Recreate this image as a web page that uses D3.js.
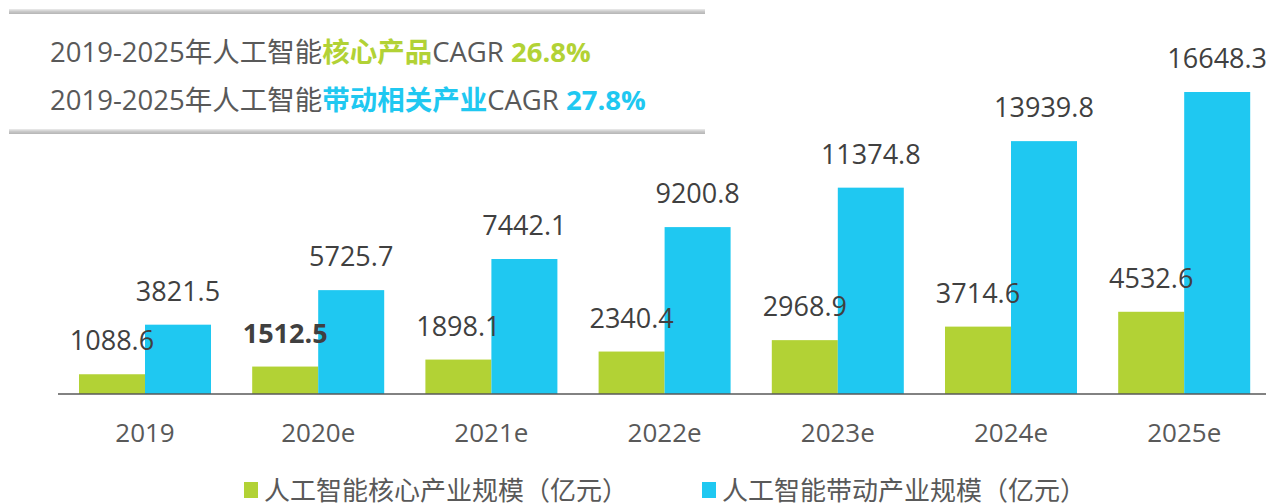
<!DOCTYPE html>
<html lang="zh">
<head>
<meta charset="UTF-8">
<title>人工智能产业规模</title>
<script src="https://d3js.org/d3.v7.min.js"></script>
<style>
  body { margin: 0; background: #fff; }
  svg text { font-family: "Open Sans", "Noto Sans CJK SC", sans-serif; }
</style>
</head>
<body>
<script>
// data
const years = ["2019", "2020e", "2021e", "2022e", "2023e", "2024e", "2025e"];
const coreValues = [1088.6, 1512.5, 1898.1, 2340.4, 2968.9, 3714.6, 4532.6];
const relatedValues = [3821.5, 5725.7, 7442.1, 9200.8, 11374.8, 13939.8, 16648.3];
const seriesNames = ["人工智能核心产业规模（亿元）", "人工智能带动产业规模（亿元）"];
const colors = ["#b2d235", "#1fc8f1"];

const width = 1266, height = 503;
const baseY = 394;

const svg = d3.select("body").append("svg")
    .attr("width", width)
    .attr("height", height);

// gradient for the box rules
const defs = svg.append("defs");
const grad = defs.append("linearGradient").attr("id", "rule").attr("x1", 0).attr("y1", 0).attr("x2", 0).attr("y2", 1);
grad.append("stop").attr("offset", "0%").attr("stop-color", "#ececec");
grad.append("stop").attr("offset", "50%").attr("stop-color", "#c9c9c9");
grad.append("stop").attr("offset", "100%").attr("stop-color", "#b5b5b5");

svg.append("rect").attr("x", 9).attr("y", 9).attr("width", 696).attr("height", 5).attr("fill", "url(#rule)");
svg.append("rect").attr("x", 9).attr("y", 129).attr("width", 696).attr("height", 5).attr("fill", "url(#rule)");

// CAGR text
const t1 = svg.append("text").attr("x", 50).attr("y", 62).attr("font-size", 27.5).attr("fill", "#595959");
t1.append("tspan").text("2019-2025年人工智能");
t1.append("tspan").attr("fill", colors[0]).attr("font-weight", "bold").text("核心产品");
t1.append("tspan").text("CAGR ");
t1.append("tspan").attr("fill", colors[0]).attr("font-weight", "bold").text("26.8%");

const t2 = svg.append("text").attr("x", 50).attr("y", 110).attr("font-size", 27.5).attr("fill", "#595959");
t2.append("tspan").text("2019-2025年人工智能");
t2.append("tspan").attr("fill", colors[1]).attr("font-weight", "bold").text("带动相关产业");
t2.append("tspan").text("CAGR ");
t2.append("tspan").attr("fill", colors[1]).attr("font-weight", "bold").text("27.8%");

// scales
const x0 = d3.scaleBand().domain(years).range([58.4, 1270.8]);
const x1 = d3.scaleBand().domain([0, 1]).range([20.6, 152.6]);
const y = d3.scaleLinear().domain([0, 16648.3]).range([baseY, 92]);

const rows = years.map((yr, i) => ({ year: yr, vals: [coreValues[i], relatedValues[i]] }));

const groups = svg.append("g").selectAll("g")
  .data(rows).enter().append("g")
    .attr("transform", d => `translate(${x0(d.year)},0)`);

groups.selectAll("rect")
  .data(d => d.vals.map((v, k) => ({ v, k })))
  .enter().append("rect")
    .attr("x", d => x1(d.k))
    .attr("y", d => y(d.v))
    .attr("width", x1.bandwidth())
    .attr("height", d => baseY - y(d.v))
    .attr("fill", d => colors[d.k]);

groups.selectAll("text.val")
  .data((d, i) => d.vals.map((v, k) => ({ v, k, bold: i === 1 && k === 0 })))
  .enter().append("text")
    .attr("class", "val")
    .attr("x", d => x1(d.k) + x1.bandwidth() / 2)
    .attr("y", d => y(d.v) - 24)
    .attr("text-anchor", "middle")
    .attr("font-size", 27)
    .attr("font-weight", d => d.bold ? "bold" : "normal")
    .attr("fill", "#404040")
    .text(d => d.v.toFixed(1));

// axis
const axis = svg.append("g")
    .attr("transform", `translate(0,${baseY})`)
    .call(d3.axisBottom(x0).tickSize(0).tickPadding(0));
axis.select(".domain").attr("stroke", "#595959").attr("stroke-width", 1.5).attr("d", "M58,0H1266");
axis.selectAll("text")
    .attr("font-size", 26)
    .attr("fill", "#595959")
    .attr("dy", null)
    .attr("y", 48);

// legend
const legendX = [244, 702];
seriesNames.forEach((name, k) => {
  svg.append("rect").attr("x", legendX[k]).attr("y", 482).attr("width", 14).attr("height", 16).attr("fill", colors[k]);
  svg.append("text").attr("x", legendX[k] + 20).attr("y", 500)
     .attr("font-size", 26).attr("fill", "#595959").text(name);
});
</script>
</body>
</html>
